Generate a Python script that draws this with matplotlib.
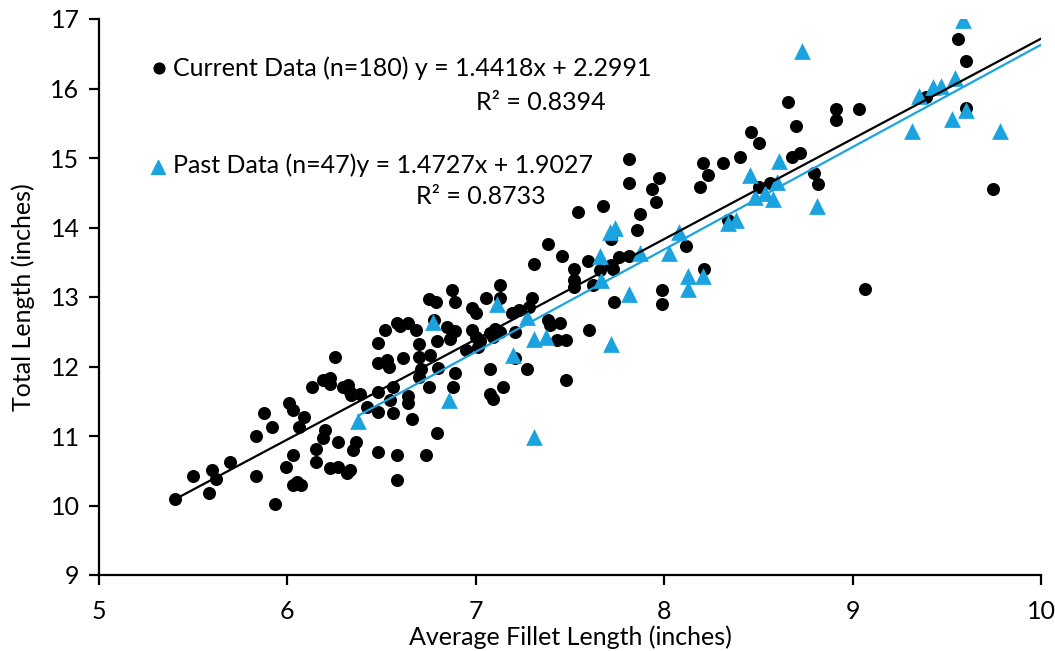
import matplotlib
matplotlib.use("Agg")
import matplotlib.pyplot as plt
import numpy as np

plt.rcParams['font.family'] = ['Lato', 'DejaVu Sans']

# ---- data ----
current_x = [5.403, 5.50, 5.585, 5.60, 5.62, 5.695, 5.833, 5.876, 5.917, 5.833, 5.934, 6.01, 6.03, 6.06,
             6.03, 5.99, 6.03, 6.05, 6.07, 6.088, 6.13, 6.15, 6.15, 6.19, 6.226, 6.226, 6.25, 6.20, 6.19,
             6.226, 6.27, 6.27, 6.293, 6.32, 6.33, 6.34, 6.385, 6.315, 6.33, 6.35, 6.364, 6.48, 6.42, 6.48,
             6.48, 6.48, 6.48, 6.53, 6.54, 6.52, 6.58, 6.60, 6.64, 6.68, 6.56, 6.545, 6.56, 6.58, 6.58,
             6.615, 6.64, 6.64, 6.66, 6.70, 6.70, 6.757, 6.70, 6.735, 6.753, 6.75, 6.79, 6.78, 6.796,
             6.796, 6.80, 6.71,
             7.815, 7.815, 7.933, 7.974, 7.956, 7.87, 7.853, 7.54, 7.673, 7.718, 7.385, 7.46, 7.597, 7.31,
             7.523, 7.523, 7.523, 7.72, 7.73, 7.76, 7.815, 7.66, 7.62, 7.735, 7.99, 7.99, 7.128, 7.128,
             7.054, 6.872, 6.89, 7.19, 7.23, 7.28, 7.30, 6.98, 7.00, 6.845, 6.89, 6.863, 6.98, 7.00, 7.02,
             7.01, 6.95, 7.075, 7.10, 7.128, 7.09, 7.208, 7.385, 7.394, 7.447, 7.43, 7.48, 7.60, 7.208,
             7.27, 7.075, 7.146, 7.075, 7.09, 7.48, 6.89, 6.877,
             8.204, 8.23, 8.19, 8.115, 8.212,
             8.658, 8.911, 8.911, 9.035, 8.70, 8.46, 8.505, 8.31, 8.40, 8.68, 8.72, 8.795, 8.818, 8.505,
             8.56, 9.066, 8.34,
             9.561, 9.60, 9.39, 9.60, 9.743]
current_y = [10.10, 10.42, 10.18, 10.51, 10.38, 10.62, 11.00, 11.33, 11.13, 10.42, 10.02, 11.48, 11.37, 11.13,
             10.73, 10.56, 10.29, 10.34, 10.30, 11.28, 11.71, 10.81, 10.62, 11.81, 11.84, 11.75, 12.14, 11.09, 10.97,
             10.54, 10.56, 10.92, 11.71, 11.73, 11.64, 11.59, 11.60, 10.47, 10.51, 10.80, 10.92, 11.64, 11.42, 11.35,
             10.77, 12.34, 12.05, 12.09, 11.99, 12.52, 12.63, 12.58, 12.63, 12.53, 11.71, 11.52, 11.33, 10.73, 10.37,
             12.12, 11.57, 11.48, 11.24, 12.33, 12.14, 12.17, 11.85, 10.73, 11.71, 12.97, 12.93, 12.67, 12.36,
             11.05, 11.98, 11.97,
             14.99, 14.64, 14.55, 14.71, 14.36, 14.19, 13.96, 14.23, 14.31, 13.84, 13.76, 13.59, 13.52, 13.48,
             13.41, 13.25, 13.14, 13.46, 13.40, 13.58, 13.59, 13.39, 13.17, 12.93, 13.10, 12.90, 13.17, 12.98,
             12.98, 13.10, 12.93, 12.77, 12.82, 12.86, 12.98, 12.84, 12.77, 12.57, 12.51, 12.40, 12.53, 12.43, 12.36,
             12.28, 12.24, 12.48, 12.54, 12.50, 12.43, 12.50, 12.67, 12.60, 12.62, 12.38, 12.38, 12.53, 12.12,
             11.96, 11.96, 11.71, 11.61, 11.53, 11.81, 11.91, 11.71,
             14.93, 14.75, 14.58, 13.73, 13.41,
             15.81, 15.70, 15.54, 15.70, 15.46, 15.38, 15.21, 14.93, 15.02, 15.02, 15.07, 14.79, 14.63, 14.58,
             14.64, 13.12, 14.11,
             16.71, 16.40, 15.88, 15.72, 14.55]

past_x = [6.775, 6.376, 6.86, 7.115, 7.27, 7.31, 7.373, 7.195, 7.31, 7.71, 7.74, 7.66, 7.87, 7.663, 7.815,
          7.72, 8.08, 8.026, 8.128, 8.128, 8.207, 8.34, 8.383, 8.455, 8.61, 8.482, 8.535, 8.575, 8.597, 8.81,
          8.73, 9.588, 9.354, 9.425, 9.467, 9.543, 9.313, 9.525, 9.60, 9.785]
past_y = [12.64, 11.21, 11.52, 12.90, 12.71, 12.39, 12.43, 12.17, 10.98, 13.93, 13.99, 13.59, 13.64, 13.24, 13.04,
          12.32, 13.93, 13.63, 13.30, 13.11, 13.30, 14.07, 14.11, 14.76, 14.96, 14.44, 14.49, 14.41, 14.66, 14.31,
          16.54, 16.98, 15.89, 16.02, 16.04, 16.15, 15.39, 15.56, 15.69, 15.39]

current_fit = (1.4418, 2.2991, 0.8394)
past_fit = (1.4727, 1.9027, 0.8733)
current_label = "Current Data (n=180)"
past_label = "Past Data (n=47)"

x_ticks = [5, 6, 7, 8, 9, 10]
y_ticks = [9, 10, 11, 12, 13, 14, 15, 16, 17]

BLUE = '#1aa3df'

W, H = 1055, 651
fig = plt.figure(figsize=(W / 100, H / 100), dpi=100)
ax = fig.add_axes([99 / W, (H - 575) / H, (1041 - 99) / W, (575 - 19) / H])

ax.scatter(current_x, current_y, s=88, color='black', marker='o', linewidths=0, zorder=3)
ax.scatter(past_x, past_y, s=145, color=BLUE, marker='^', linewidths=0, zorder=3)

xc = np.array([min(current_x), 10])
ax.plot(xc, current_fit[0] * xc + current_fit[1], color='black', lw=1.6, zorder=4)
xp = np.array([min(past_x), 10])
ax.plot(xp, past_fit[0] * xp + past_fit[1], color=BLUE, lw=1.6, zorder=4)

ax.set_xlim(5, 10)
ax.set_ylim(9, 17)
ax.set_xticks(x_ticks)
ax.set_yticks(y_ticks)
ax.spines['top'].set_visible(False)
ax.spines['right'].set_visible(False)
for s in ('left', 'bottom'):
    ax.spines[s].set_linewidth(1.6)
    ax.spines[s].set_color('black')
fs = 18
ax.tick_params(axis='both', direction='out', length=7, width=1.6, labelsize=fs, colors='black')
ax.tick_params(axis='x', pad=11)
ax.tick_params(axis='y', pad=7)

ax.set_xlabel('Average Fillet Length (inches)', fontsize=fs, labelpad=2)
ax.set_ylabel('Total Length (inches)', fontsize=fs, labelpad=11)

def fx(px):
    return (px - 99) / 942

def fy(py):
    return (575 - py) / 556

ax.scatter([fx(159)], [fy(68)], s=60, color='black', marker='o', transform=ax.transAxes, clip_on=False, zorder=5)
ax.text(fx(173), fy(68), f"{current_label} y = {current_fit[0]}x + {current_fit[1]}",
        transform=ax.transAxes, fontsize=fs, va='center', ha='left')
ax.text(fx(476), fy(102), f"R² = {current_fit[2]}", transform=ax.transAxes, fontsize=fs, va='center', ha='left')

ax.scatter([fx(158)], [fy(167)], s=100, color=BLUE, marker='^', transform=ax.transAxes, clip_on=False, zorder=5)
ax.text(fx(173), fy(165), f"{past_label}y = {past_fit[0]}x + {past_fit[1]}",
        transform=ax.transAxes, fontsize=fs, va='center', ha='left')
ax.text(fx(416), fy(196), f"R² = {past_fit[2]}", transform=ax.transAxes, fontsize=fs, va='center', ha='left')

fig.savefig('out.png', dpi=100)
